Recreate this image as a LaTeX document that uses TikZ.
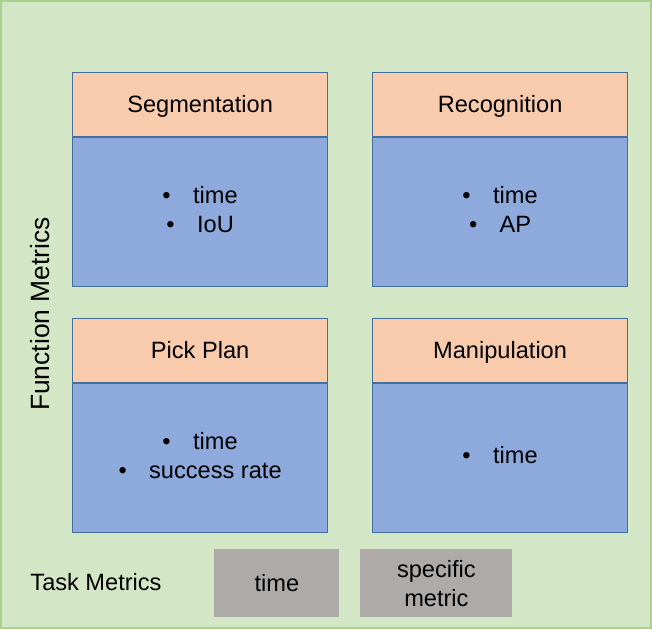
\documentclass[tikz,border=0pt]{standalone}
\usepackage{fontspec}
\setmainfont{Liberation Sans}
\usepackage{xcolor}
\usetikzlibrary{positioning}

\definecolor{bggreen}{HTML}{D3E6C6}
\definecolor{bgline}{HTML}{A9D08E}
\definecolor{headpeach}{HTML}{F8CBAD}
\definecolor{bodyblue}{HTML}{8EA9DB}
\definecolor{boxline}{HTML}{41719C}
\definecolor{taskgray}{HTML}{AEAAAA}

\newcommand{\itm}[1]{\textbullet\hspace{0.95em}#1}

\tikzset{
  head/.style={draw=boxline, line width=0.6pt, fill=headpeach, anchor=north west,
    minimum width=127.5pt, minimum height=32pt, inner sep=0pt,
    text height=8pt, text depth=0pt},
  body/.style={draw=boxline, line width=0.6pt, fill=bodyblue, anchor=north,
    minimum width=127.5pt, minimum height=74.5pt, inner sep=0pt, align=center,
    text depth=3pt},
  task/.style={fill=taskgray, anchor=north west, minimum height=34pt,
    inner sep=0pt, align=center}
}

\begin{document}
\begin{tikzpicture}[x=0.5pt, y=-0.5pt, font=\fontsize{11.8pt}{14.5pt}\selectfont]
			\useasboundingbox (0,0) rectangle (652,629);
			\draw [bgline, fill=bggreen, line width=1pt] (1,1) rectangle (651,628);
			% function blocks
			\node [head] (seghead) at (72,72) {Segmentation};
			\node [body, below=0pt of seghead.south] (segbody) {\itm{time}\\ \itm{IoU}};
			\node [head] (rechead) at (372,72) {Recognition};
			\node [body, below=0pt of rechead.south] (recbody) {\itm{time}\\ \itm{AP}};
			\node [head] (pickhead) at (72,318) {Pick Plan};
			\node [body, below=0pt of pickhead.south] (pickbody) {\itm{time}\\ \itm{success rate}};
			\node [head] (manhead) at (372,318) {Manipulation};
			\node [body, below=0pt of manhead.south] (manbody) {\itm{time}};
			\node [rotate=90, font=\fontsize{13.2pt}{16pt}\selectfont] (funclabel) at (40,314) {Function Metrics};
			% task metrics
			\node (tasklabel) at (96,582) {Task Metrics};
			\node [task, minimum width=62.5pt] (tasktime) at (214,549) {time};
			\node [task, minimum width=76pt] (taskspec) at (360,549) {specific\\ metric};
		\end{tikzpicture}
\end{document}
